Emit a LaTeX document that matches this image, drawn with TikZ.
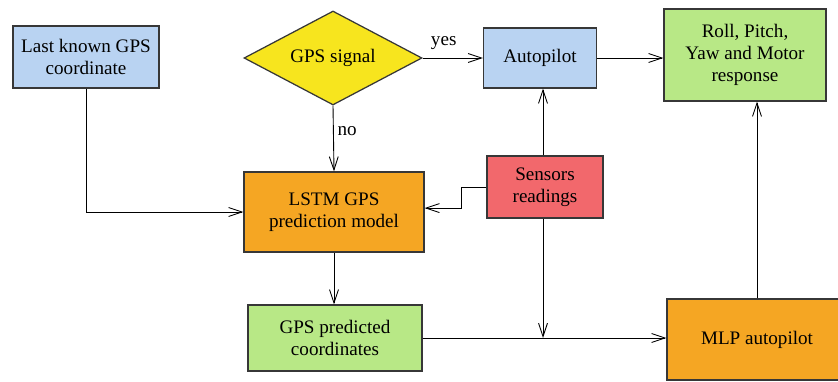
\documentclass[tikz,border=0pt]{standalone}
\usepackage{fontspec}
\setmainfont{Liberation Serif}
\usetikzlibrary{shapes.geometric,arrows.meta}

\definecolor{boxblue}{RGB}{185,211,242}
\definecolor{boxyellow}{RGB}{247,229,30}
\definecolor{boxgreen}{RGB}{184,232,134}
\definecolor{boxorange}{RGB}{245,166,35}
\definecolor{boxred}{RGB}{242,104,108}
\definecolor{edgegray}{RGB}{55,55,55}

\tikzset{
  txt/.style={font=\fontsize{10.7pt}{12.3pt}\selectfont},
  block/.style={txt, draw=edgegray, line width=0.7pt, rectangle, align=center,
    inner sep=2pt},
  decision/.style={txt, draw=edgegray, line width=0.7pt, diamond, aspect=1.9,
    inner sep=0pt, align=center, fill=boxyellow},
  link/.style={draw=black, line width=0.5pt,
    -{Straight Barb[length=7.5pt,width=5pt,line width=0.5pt]}},
  lbl/.style={txt, inner sep=1pt}
}

\begin{document}
\begin{tikzpicture}[x=0.56pt, y=-0.56pt]
  \useasboundingbox (0,0) rectangle (838,381);

  % blocks
  \node[block, fill=boxblue, minimum width=146*0.56pt, minimum height=62*0.56pt]
    (last) at (86,57) {Last known GPS\\coordinate};
  \node[decision, minimum width=178*0.56pt, minimum height=94*0.56pt]
    (gps) at (333,58) {GPS signal};
  \node[block, fill=boxblue, minimum width=113*0.56pt, minimum height=60*0.56pt]
    (auto) at (540,58) {Autopilot};
  \node[block, fill=boxgreen, minimum width=162*0.56pt, minimum height=92*0.56pt]
    (resp) at (745,55) {Roll, Pitch,\\Yaw and Motor\\response};
  \node[block, fill=boxorange, minimum width=180*0.56pt, minimum height=80*0.56pt]
    (lstm) at (334,212) {LSTM GPS\\prediction model};
  \node[block, fill=boxred, minimum width=116*0.56pt, minimum height=62*0.56pt]
    (sens) at (545,187) {Sensors\\readings};
  \node[block, fill=boxgreen, minimum width=174*0.56pt, minimum height=66*0.56pt]
    (pred) at (335,338) {GPS predicted\\coordinates};
  \node[block, fill=boxorange, minimum width=180*0.56pt, minimum height=81*0.56pt]
    (mlp) at (757,339.5) {MLP autopilot};

  % junction where the sensor line meets the prediction line
  \coordinate (join) at ([xshift=-2*0.56pt]sens.south |- pred.east);
  \coordinate (sensup) at ([xshift=-2*0.56pt]sens.north);
  \coordinate (sensdown) at ([xshift=-2*0.56pt]sens.south);

  % connectors
  \draw[link] (gps.east) -- node[lbl, above, pos=0.35, yshift=6*0.56pt] {yes} (auto.west);
  \draw[link] (gps.south) -- node[lbl, right, pos=0.38, xshift=2*0.56pt] {no} (lstm.north);
  \draw[link] (auto.east) -- (auto.east -| resp.west);
  \draw[link] (sensup) -- (sensup |- auto.south);
  \draw[link] (sens.west) -- ++(-25,0) |- ([yshift=2.2pt]lstm.east);
  \draw[link] (last.south) |- (lstm.west);
  \draw[link] (lstm.south) -- (lstm.south |- pred.north);
  \draw[link] (sensdown) -- (join);
  \draw[link] (pred.east) -- (pred.east -| mlp.west);
  \draw[link] (mlp.north) -- (mlp.north |- resp.south);
\end{tikzpicture}
\end{document}
